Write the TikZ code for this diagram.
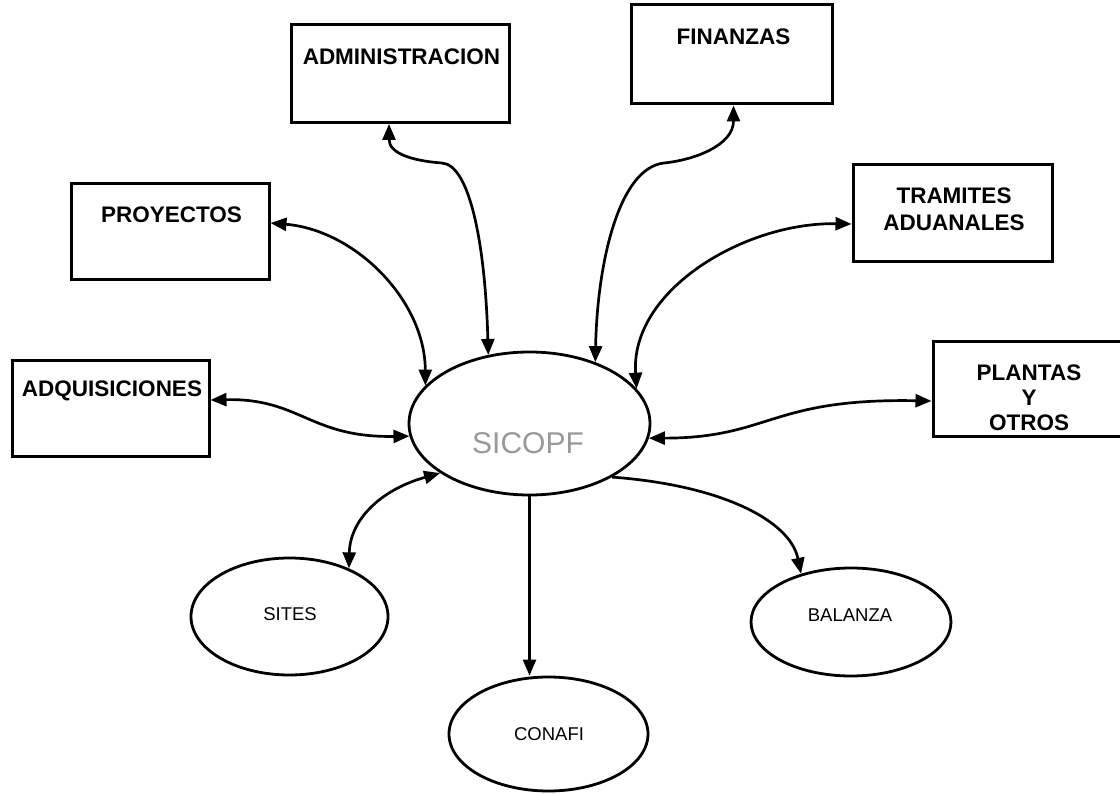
\documentclass[tikz,border=0pt]{standalone}
\usepackage{fontspec}
\setmainfont{Liberation Sans}
\usetikzlibrary{shapes.geometric,arrows.meta}
\begin{document}
\begin{tikzpicture}[x=1pt,y=-1pt,
  unit/.style={draw, line width=3pt, rectangle, inner sep=0pt},
  sysnode/.style={draw, line width=2.8pt, ellipse, inner sep=0pt},
  boxlabel/.style={font=\fontsize{22.5}{27}\selectfont\bfseries, align=center, inner sep=0pt},
  ovallabel/.style={font=\fontsize{18.5}{20}\selectfont, inner sep=0pt},
  link/.style={line width=2.7pt, >={Triangle[length=16pt,width=13pt]}}
]
\clip (0,0) rectangle (1120,794);
\useasboundingbox (0,0) rectangle (1120,794);
\fill[white] (0,0) rectangle (1120,794);

% external units
\node[unit, minimum width=218pt, minimum height=98pt] (adm) at (400,73.5) {};
\node[unit, minimum width=201pt, minimum height=99pt] (fin) at (731.5,54.5) {};
\node[unit, minimum width=198pt, minimum height=96pt] (proy) at (170,232) {};
\node[unit, minimum width=199pt, minimum height=97pt] (tram) at (952.5,213.5) {};
\node[unit, minimum width=197pt, minimum height=96pt] (adq) at (110.5,408.5) {};
\node[unit, minimum width=192pt, minimum height=95pt] (plant) at (1029,389.5) {};

\node[boxlabel] (admT) at (401.5,57) {ADMINISTRACION};
\node[boxlabel] (finT) at (733.5,37) {FINANZAS};
\node[boxlabel] (proyT) at (171.5,215) {PROYECTOS};
\node[boxlabel] (tramT) at (954,209.5) {TRAMITES\\ADUANALES};
\node[boxlabel, font=\fontsize{22.5}{25}\selectfont\bfseries] (plantT) at (1029,398) {PLANTAS\\Y\\OTROS};
\node[boxlabel] (adqT) at (112,391) {ADQUISICIONES};

% central system and satellite systems
\node[sysnode, minimum width=241pt, minimum height=143pt] (sic) at (529.5,423.5) {};
\node[font=\fontsize{30}{32}\selectfont, text=black!40, inner sep=0pt] (sicT) at (528,443) {SICOPF};
\node[sysnode, minimum width=197pt, minimum height=117pt] (sit) at (289.5,616.5) {};
\node[sysnode, minimum width=199pt, minimum height=114pt] (con) at (548.5,734) {};
\node[sysnode, minimum width=200pt, minimum height=108pt] (bal) at (851,622) {};
\node[ovallabel] (sitT) at (290,614) {SITES};
\node[ovallabel] (conT) at (549,734) {CONAFI};
\node[ovallabel] (balT) at (850,615) {BALANZA};

% waypoints of the longer connectors
\coordinate (admW) at (442,163);
\coordinate (finW) at (664,163);

% connectors
\draw[link,<->] ([xshift=-11pt]adm.south) .. controls +(0,30) and +(-28,-2) .. (admW)
  .. controls +(28,2) and +(-3,-110) .. (sic.121);
\draw[link,<->] ([xshift=2pt]fin.south) .. controls +(0,40) and +(30,-3) .. (finW)
  .. controls +(-45,5) and +(2,-100) .. (sic.43);
\draw[link,<->] ([yshift=9pt]proy.east) .. controls (355,230) and (425,300) .. (sic.160);
\draw[link,<->] ([yshift=-10.5pt]tram.west) .. controls (745,222) and (630,290) .. (sic.18);
\draw[link,<->] ([yshift=8.5pt]adq.east) .. controls (300,398) and (310,438) .. (sic.186.5);
\draw[link,<->] ([yshift=-11.5pt]plant.west) .. controls (770,398) and (770,438) .. (sic.353);
\draw[link,<->] (sic.209.5) .. controls (380,490) and (350,520) .. (sit.39);
\draw[link,->] (sic.south) -- (sic.south |- con.north);
\draw[link,->] (sic.327) .. controls (720,485) and (790,520) .. (bal.136);
\end{tikzpicture}
\end{document}
